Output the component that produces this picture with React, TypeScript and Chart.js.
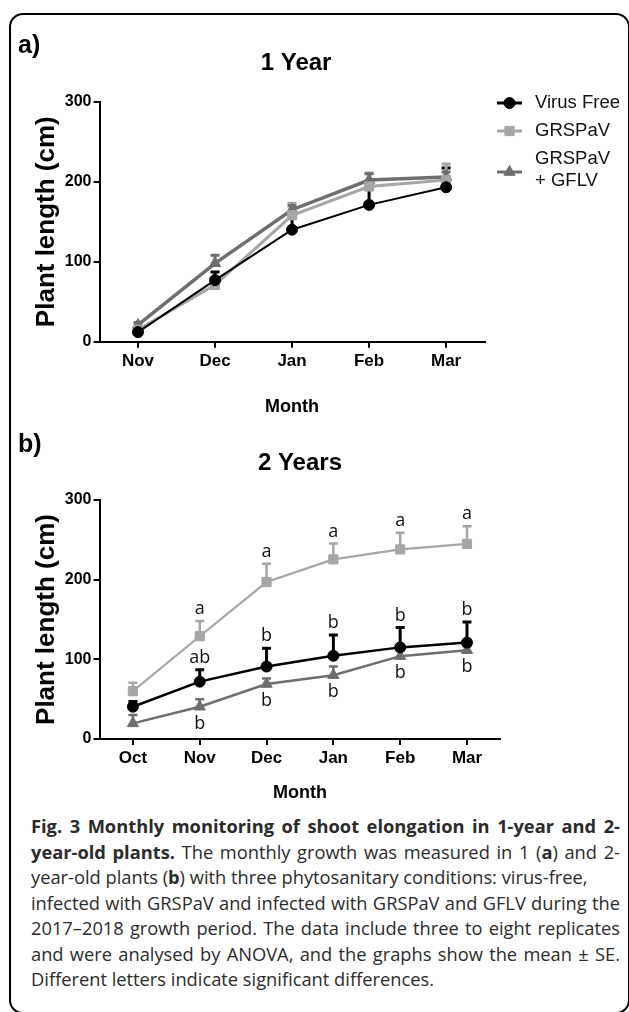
import React, { useEffect, useRef } from 'react';
import { Chart, registerables } from 'chart.js';
import { drawPoint } from 'chart.js/helpers';

Chart.register(...registerables);

// ---------- data ----------
const months1 = ['Nov', 'Dec', 'Jan', 'Feb', 'Mar'];
const virusFree1 = [12, 77, 140, 171, 193];
const virusFree1Se = [3, 10, 22, 21, 24];
const grspav1 = [15, 71, 158, 194, 202];
const grspav1Se = [3, 5, 15, 17, 20];
const grspavGflv1 = [21, 98, 165, 202, 206];
const grspavGflv1Se = [3, 10, 5, 8, 6];

const months2 = ['Oct', 'Nov', 'Dec', 'Jan', 'Feb', 'Mar'];
const virusFree2 = [40.5, 72, 91, 104.5, 115, 121];
const virusFree2Se = [6.5, 15, 23, 26, 25, 26];
const grspav2 = [60, 129, 197, 225.5, 238, 245];
const grspav2Se = [10.6, 19, 23, 20, 21, 22];
const grspavGflv2 = [19.6, 40.5, 69, 80, 104, 111.5];
const grspavGflv2Se = [10.4, 9.5, 7, 11, 7, 5];

const virusFree2Letters = ['', 'ab', 'b', 'b', 'b', 'b'];
const grspav2Letters = ['', 'a', 'a', 'a', 'a', 'a'];
const grspavGflv2Letters = ['', 'b', 'b', 'b', 'b', 'b'];

const yTickValues = [0, 100, 200, 300];
const seriesNames = ['Virus Free', 'GRSPaV', 'GRSPaV\n+ GFLV'];

// ---------- styling ----------
const FONT = "'Liberation Sans', Arial, Helvetica, sans-serif";
const LETTER_FONT = "'Open Sans', 'Noto Sans', sans-serif";
const BLACK = '#000000';
const LIGHT = '#a6a6a6';
const DARK = '#6e6e6e';

// ---------- plugins ----------
const errorBars = {
  id: 'errorBars',
  beforeDatasetsDraw(chart: any, _a: any, opts: any) {
    const { ctx } = chart;
    const ys = chart.scales.y;
    chart.data.datasets.forEach((ds: any, i: number) => {
      if (!ds.se) return;
      const meta = chart.getDatasetMeta(i);
      ctx.save();
      ctx.strokeStyle = ds.borderColor;
      ctx.lineWidth = ds.errWidth || 2.5;
      meta.data.forEach((pt: any, j: number) => {
        const y0 = ys.getPixelForValue(ds.data[j]);
        const y1 = ys.getPixelForValue(ds.data[j] + ds.se[j]);
        const cap = opts.cap;
        ctx.beginPath();
        ctx.moveTo(pt.x, y0);
        ctx.lineTo(pt.x, y1);
        ctx.moveTo(pt.x - cap, y1);
        ctx.lineTo(pt.x + cap, y1);
        ctx.stroke();
      });
      ctx.restore();
    });
  },
};

const sigLetters = {
  id: 'sigLetters',
  afterDatasetsDraw(chart: any, _a: any, opts: any) {
    const { ctx } = chart;
    const ys = chart.scales.y;
    ctx.save();
    ctx.font = `${opts.size}px ${LETTER_FONT}`;
    ctx.fillStyle = '#111111';
    ctx.textAlign = 'center';
    ctx.textBaseline = 'middle';
    chart.data.datasets.forEach((ds: any, i: number) => {
      if (!ds.letters) return;
      const meta = chart.getDatasetMeta(i);
      meta.data.forEach((pt: any, j: number) => {
        const t = ds.letters[j];
        if (!t) return;
        const y =
          ds.letterPos === 'below'
            ? ys.getPixelForValue(ds.data[j]) + opts.below
            : ys.getPixelForValue(ds.data[j] + ds.se[j]) - opts.above;
        ctx.fillText(t, pt.x, y);
      });
    });
    ctx.restore();
  },
};

const panelTitle = {
  id: 'panelTitle',
  afterDraw(chart: any, _a: any, opts: any) {
    const { ctx, chartArea } = chart;
    ctx.save();
    ctx.font = `bold ${opts.size}px ${FONT}`;
    ctx.fillStyle = '#000';
    ctx.textAlign = 'center';
    ctx.textBaseline = 'middle';
    ctx.fillText(opts.text, (chartArea.left + chartArea.right) / 2 + opts.dx, opts.y);
    ctx.restore();
  },
};

const sideLegend = {
  id: 'sideLegend',
  afterDraw(chart: any, _a: any, opts: any) {
    if (!opts || !opts.display) return;
    const { ctx, chartArea } = chart;
    const x0 = chartArea.right + opts.gap;
    let y = chartArea.top + opts.offsetY;
    ctx.save();
    ctx.font = `${opts.size}px ${FONT}`;
    ctx.textBaseline = 'middle';
    ctx.textAlign = 'left';
    chart.data.datasets.forEach((ds: any) => {
      const lines = String(ds.label).split('\n');
      const lh = opts.lineHeight;
      const sy = y + ((lines.length - 1) * lh) / 2 + (lines.length > 1 ? 2 : 0);
      ctx.strokeStyle = ds.borderColor;
      ctx.lineWidth = 3;
      ctx.beginPath();
      ctx.moveTo(x0, sy);
      ctx.lineTo(x0 + opts.lineLen, sy);
      ctx.stroke();
      ctx.fillStyle = ds.borderColor;
      ctx.lineWidth = 1;
      drawPoint(ctx, { pointStyle: ds.pointStyle, rotation: 0, radius: ds.pointRadius, borderWidth: 1 }, x0 + opts.lineLen / 2, sy);
      ctx.fillStyle = '#111111';
      lines.forEach((ln: string, k: number) => ctx.fillText(ln, x0 + opts.textGap, y + k * lh));
      y += lines.length * lh + opts.gapY;
    });
    ctx.restore();
  },
};

// ---------- config builder ----------
function buildConfig(p: any) {
  const grid = { drawOnChartArea: false, color: BLACK, lineWidth: 2, tickLength: 6 };
  return {
    type: 'line',
    data: { labels: p.labels, datasets: p.datasets },
    plugins: [errorBars, sigLetters, panelTitle, sideLegend],
    options: {
      animation: false,
      responsive: false,
      maintainAspectRatio: false,
      events: [],
      layout: { padding: p.padding },
      elements: { line: { tension: 0 } },
      plugins: {
        legend: { display: false },
        tooltip: { enabled: false },
        errorBars: { cap: 4.5 },
        sigLetters: { size: 18, above: 12, below: 17 },
        panelTitle: { text: p.title, y: p.titleY, dx: p.titleDx, size: 24 },
        sideLegend: p.legend,
      },
      scales: {
        x: {
          type: 'category',
          offset: true,
          grid,
          border: { display: true, color: BLACK, width: 2 },
          ticks: { color: BLACK, font: { family: FONT, size: 17, weight: 'bold' }, padding: p.xTickPad, maxRotation: 0, autoSkip: false },
          title: { display: true, text: 'Month', color: BLACK, font: { family: FONT, size: 18, weight: 'bold' }, padding: { top: 0, bottom: p.xTitlePad } },
          afterFit: (s: any) => { s.height = p.xHeight; },
        },
        y: {
          min: 0,
          max: 300,
          grid,
          border: { display: true, color: BLACK, width: 2 },
          afterBuildTicks: (s: any) => { s.ticks = yTickValues.map((v) => ({ value: v })); },
          ticks: { color: BLACK, font: { family: FONT, size: 16, weight: 'bold' }, padding: 2 },
          title: { display: true, text: 'Plant length (cm)', color: BLACK, font: { family: FONT, size: 26, weight: 'bold' }, padding: { top: 31, bottom: 0 } },
          afterFit: (s: any) => { s.width = 99.5; },
        },
      },
    },
  };
}

function ds(label: string, data: number[], se: number[], color: string, style: string, radius: number, width: number, extra: any = {}) {
  return {
    label,
    data,
    se,
    borderColor: color,
    backgroundColor: color,
    pointBackgroundColor: color,
    pointBorderColor: color,
    borderWidth: width,
    pointStyle: style,
    pointRadius: radius,
    pointBorderWidth: 1,
    ...extra,
  };
}

function ChartCanvas({ top, height, make }: { top: number; height: number; make: () => any }) {
  const ref = useRef<HTMLCanvasElement | null>(null);
  useEffect(() => {
    const chart = new Chart(ref.current as HTMLCanvasElement, make());
    return () => chart.destroy();
  }, []);
  return (
    <canvas
      ref={ref}
      width={629}
      height={height}
      style={{ position: 'absolute', left: 0, top, width: 629, height }}
    />
  );
}

const chartA = () =>
  buildConfig({
    labels: months1,
    title: '1 Year',
    titleY: 63,
    titleDx: 4,
    padding: { top: 101.7, right: 144.4, bottom: 0.3, left: 0 },
    xHeight: 78,
    xTickPad: 3.5,
    xTitlePad: 2,
    legend: { display: true, gap: 12.4, lineLen: 25, textGap: 38, offsetY: 1.3, lineHeight: 22, gapY: 6, size: 18.5 },
    datasets: [
      ds(seriesNames[0], virusFree1, virusFree1Se, BLACK, 'circle', 5.5, 2, { errWidth: 3 }),
      ds(seriesNames[1], grspav1, grspav1Se, LIGHT, 'rect', 6.5, 3, { errWidth: 3 }),
      ds(seriesNames[2], grspavGflv1, grspavGflv1Se, DARK, 'triangle', 6.5, 3.5, { errWidth: 3 }),
    ],
  });

const chartB = () =>
  buildConfig({
    labels: months2,
    title: '2 Years',
    titleY: 43,
    titleDx: 0,
    padding: { top: 80, right: 128.6, bottom: 5, left: 0 },
    xHeight: 66,
    xTickPad: 3,
    xTitlePad: 1.2,
    legend: { display: false },
    datasets: [
      ds(seriesNames[0], virusFree2, virusFree2Se, BLACK, 'circle', 5.5, 2.5, { errWidth: 3, letters: virusFree2Letters, letterPos: 'above' }),
      ds(seriesNames[1], grspav2, grspav2Se, LIGHT, 'rect', 6.5, 2.2, { errWidth: 2.5, letters: grspav2Letters, letterPos: 'above' }),
      ds(seriesNames[2], grspavGflv2, grspavGflv2Se, DARK, 'triangle', 6.5, 2.5, { errWidth: 2.5, letters: grspavGflv2Letters, letterPos: 'below' }),
    ],
  });

const capFont = "'Open Sans', 'Noto Sans', sans-serif";

function Line({ children, justify }: { children: any; justify?: boolean }) {
  return (
    <div
      style={{
        whiteSpace: 'nowrap',
        textAlign: justify ? 'justify' : 'left',
        textAlignLast: justify ? 'justify' : 'left',
        height: 25.5,
      } as any}
    >
      {children}
    </div>
  );
}

export default function App() {
  return (
    <div
      style={{
        position: 'absolute',
        left: 0,
        top: 0,
        width: 629,
        height: 1012,
        overflow: 'hidden',
        background: '#fff',
      }}
    >
      <div
        style={{
          position: 'absolute',
          left: 9,
          top: 13,
          width: 621,
          height: 1001,
          border: '2px solid #000',
          borderRadius: 14,
          boxSizing: 'border-box',
        }}
      />
      <ChartCanvas top={0} height={420} make={chartA} />
      <ChartCanvas top={420} height={390} make={chartB} />
      <div style={{ position: 'absolute', left: 18, top: 30, font: `bold 25px ${FONT}`, lineHeight: '28px' }}>a)</div>
      <div style={{ position: 'absolute', left: 18, top: 429, font: `bold 25px ${FONT}`, lineHeight: '28px' }}>b)</div>
      <div
        style={{
          position: 'absolute',
          left: 31,
          top: 813,
          width: 589,
          fontFamily: capFont,
          fontSize: 18.3,
          lineHeight: '25.5px',
          color: '#2b2b2b',
        }}
      >
        <Line justify>
          <b>Fig. 3 Monthly monitoring of shoot elongation in 1-year and 2-</b>
        </Line>
        <Line justify>
          <b>year-old plants.</b> The monthly growth was measured in 1 (<b>a</b>) and 2-
        </Line>
        <Line>
          year-old plants (<b>b</b>) with three phytosanitary conditions: virus-free,
        </Line>
        <Line justify>infected with GRSPaV and infected with GRSPaV and GFLV during the</Line>
        <Line justify>2017–2018 growth period. The data include three to eight replicates</Line>
        <Line justify>and were analysed by ANOVA, and the graphs show the mean ± SE.</Line>
        <Line>Different letters indicate significant differences.</Line>
      </div>
    </div>
  );
}
